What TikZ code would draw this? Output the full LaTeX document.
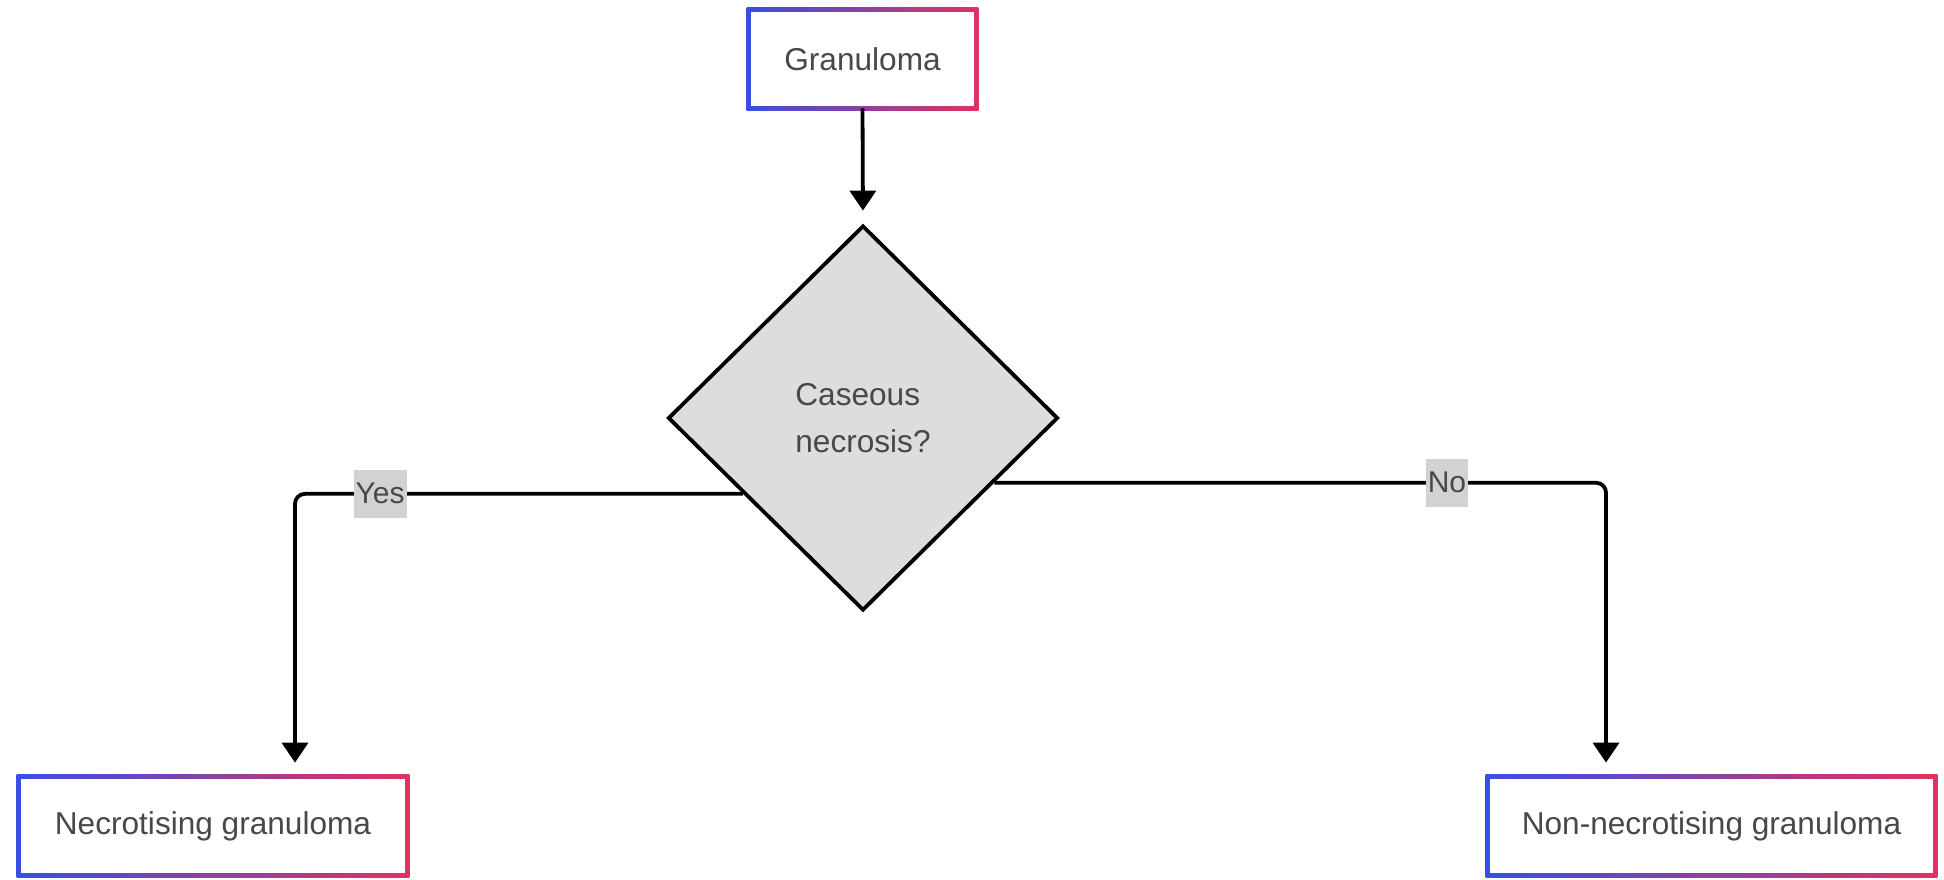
\documentclass[tikz,border=0pt]{standalone}
\usepackage{fontspec}
\setmainfont{Liberation Sans}
\usetikzlibrary{shapes.geometric,arrows.meta,backgrounds,calc}
\definecolor{gblue}{RGB}{55,80,225}
\definecolor{gred}{RGB}{225,50,95}
\definecolor{txt}{RGB}{72,72,72}
\definecolor{dfill}{RGB}{221,221,221}
\definecolor{lfill}{RGB}{210,210,210}
\begin{document}
\begin{tikzpicture}[x=0.5pt,y=-0.5pt,
  box/.style={fill=white, inner sep=0pt, text=txt, font=\fontsize{15.8}{19}\selectfont},
  dec/.style={diamond, draw=black, line width=1.9pt, fill=dfill, inner sep=0pt, text=txt, align=left, font=\fontsize{15.8}{23.5}\selectfont},
  arr/.style={line width=1.9pt, -{Triangle[width=13pt,length=10pt]}},
  lbl/.style={sharp corners, fill=lfill, text=txt, inner xsep=1pt, inner ysep=0pt, minimum height=24pt, font=\fontsize{15}{18}\selectfont}]
\useasboundingbox (0,0) rectangle (1944,879);
\node[box, minimum width=111.5pt, minimum height=47pt] (g) at (862.5,59) {Granuloma};
\node[dec, minimum width=195pt, minimum height=192.5pt] (d) at (863,418) {Caseous\\necrosis?};
\node[box, minimum width=192pt, minimum height=47pt] (nec) at (213,826) {Necrotising granuloma};
\node[box, minimum width=221.5pt, minimum height=47pt] (non) at (1711.5,826) {Non-necrotising granuloma};
\begin{scope}[on background layer]
  \fill[white] (0,0) rectangle (1944,879);
  \foreach \n in {g,nec,non}
    \shade[left color=gblue,right color=gred] ([shift={(-2pt,-2pt)}]\n.south west) rectangle ([shift={(2pt,2pt)}]\n.north east);
\end{scope}
\draw[arr, shorten <=1pt, shorten >=6.5pt] (g.south) -- (d.north);
\coordinate (ys) at ($(d.west)!0.39!(d.south)$);
\coordinate (ns) at ($(d.east)!0.333!(d.south)$);
\draw[arr, rounded corners=5pt, shorten >=8pt] (ys) -| ([xshift=41pt]nec.north) node[lbl, pos=0.405] {Yes};
\draw[arr, rounded corners=5pt, shorten >=8pt] (ns) -| ([xshift=-52.75pt]non.north) node[lbl, pos=0.37] {No};
\end{tikzpicture}
\end{document}
